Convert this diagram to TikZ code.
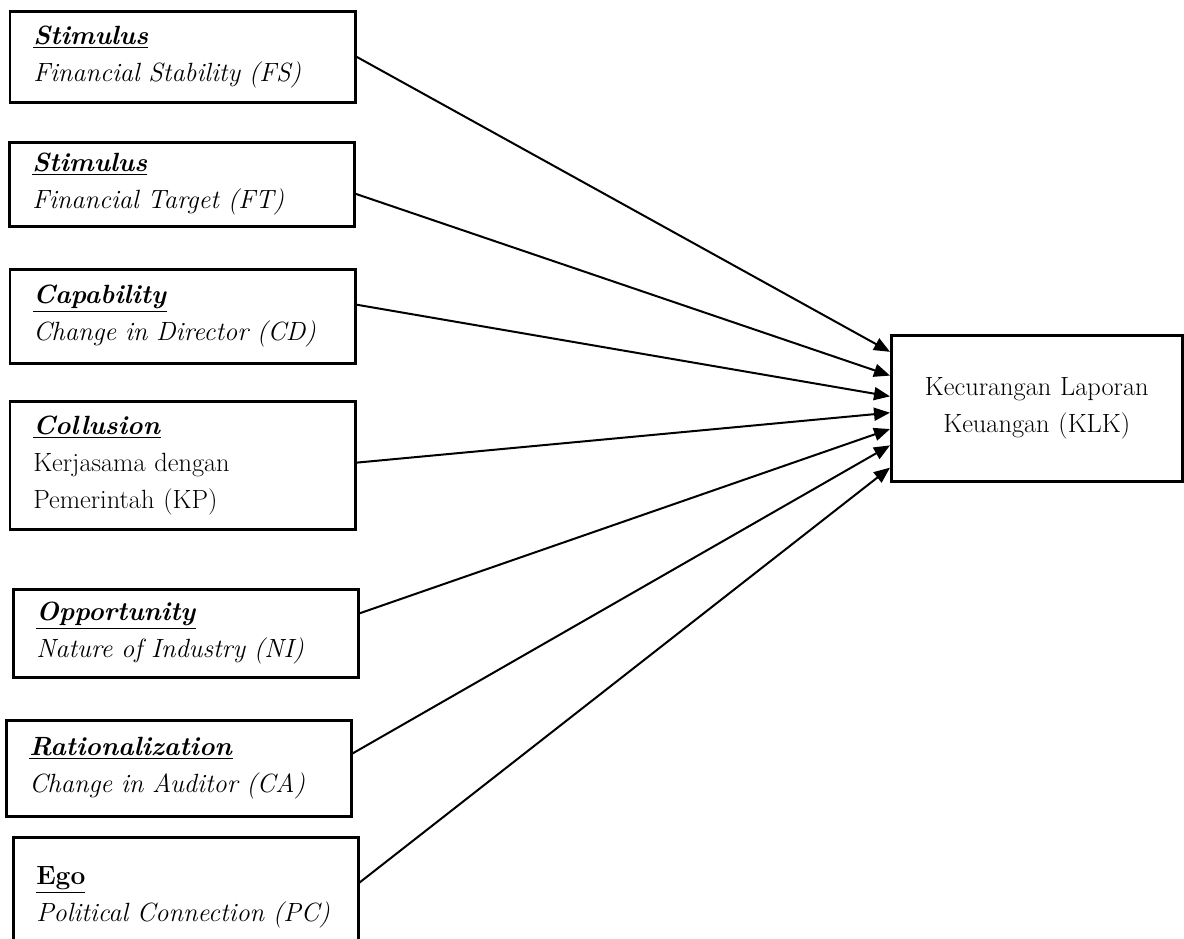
\documentclass[tikz,border=0pt]{standalone}
\usepackage{fontspec}
\usepackage{tikz}
\usetikzlibrary{arrows.meta,calc}

\begin{document}
\begin{tikzpicture}[
        factor/.style={
            rectangle,
            draw=black,
            line width=0.05cm,
            anchor=north west,
            minimum width=6.9cm,
            text width=5.98cm,
            inner xsep=0.46cm,
            align=left,
            font=\fontsize{15}{21}\selectfont},
        outcome/.style={
            rectangle,
            draw=black,
            line width=0.05cm,
            anchor=north west,
            minimum width=5.82cm,
            minimum height=2.92cm,
            text width=5.2cm,
            align=center,
            font=\fontsize{15}{21}\selectfont},
        myarrow/.style={-{Triangle[length=0.32cm,width=0.26cm]},line width=0.04cm}
        ]
        \useasboundingbox (0,0) rectangle (23.68,-18.76);
        \clip (0,0) rectangle (23.68,-18.76);

        \node[factor,minimum height=1.82cm] (fs) at (0.18,-0.20)
            {\underline{\textbf{\textit{Stimulus}}}\\\textit{Financial Stability (FS)}};
        \node[factor,minimum height=1.68cm] (ft) at (0.16,-2.82)
            {\underline{\textbf{\textit{Stimulus}}}\\\textit{Financial Target (FT)}};
        \node[factor,minimum height=1.88cm] (cd) at (0.18,-5.36)
            {\underline{\textbf{\textit{Capability}}}\\\textit{Change in Director (CD)}};
        \node[factor,minimum height=2.56cm] (kp) at (0.18,-8.00)
            {\underline{\textbf{\textit{Collusion}}}\\Kerjasama dengan\\Pemerintah (KP)};
        \node[factor,minimum height=1.76cm] (ni) at (0.24,-11.76)
            {\underline{\textbf{\textit{Opportunity}}}\\\textit{Nature of Industry (NI)}};
        \node[factor,minimum height=1.92cm] (ca) at (0.10,-14.38)
            {\underline{\textbf{\textit{Rationalization}}}\\\textit{Change in Auditor (CA)}};
        \node[factor,minimum height=2.40cm] (pc) at (0.24,-16.72)
            {\underline{\textbf{Ego}}\\\textit{Political Connection (PC)}};

        \node[outcome] (klk) at (17.80,-6.68) {Kecurangan Laporan\\Keuangan (KLK)};

        \foreach \i/\s/\e in {% source node/start on its right side/end on left side of klk
            fs/0.50/0.12,
            ft/0.61/0.28,
            cd/0.38/0.42,
            kp/0.48/0.53,
            ni/0.28/0.64,
            ca/0.35/0.75,
            pc/0.38/0.90}
            \draw [myarrow] ($(\i.north east)!\s!(\i.south east)$) -- ($(klk.north west)!\e!(klk.south west)$);

        \end{tikzpicture}
\end{document}
